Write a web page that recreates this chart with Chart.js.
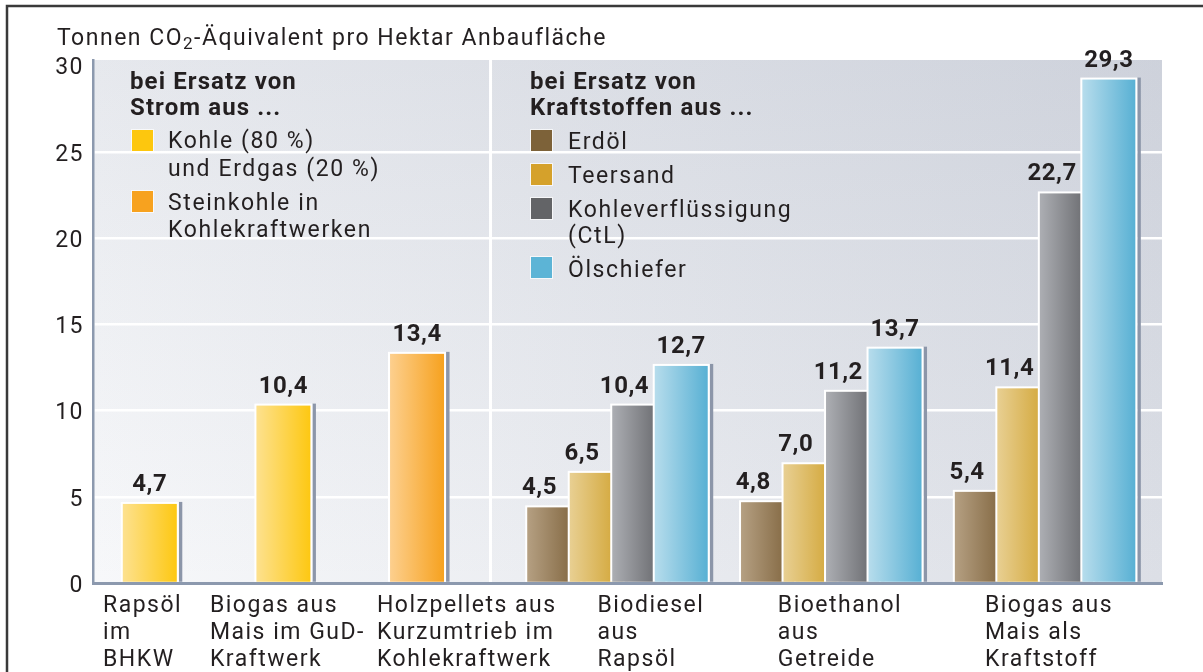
<!DOCTYPE html>
<html lang="de">
<head>
  <meta charset="UTF-8">
  <title>Tonnen CO2-Äquivalent pro Hektar Anbaufläche</title>
  <script src="https://cdn.jsdelivr.net/npm/chart.js"></script>
  <style>
    html, body { margin: 0; padding: 0; background: #fff; }
    canvas { display: block; }
  </style>
</head>
<body>
  <canvas id="co2Chart" width="1203" height="672"></canvas>

  <script>
    // Data
    const groupLabels = [
      ['Rapsöl', 'im', 'BHKW'],
      ['Biogas aus', 'Mais im GuD-', 'Kraftwerk'],
      ['Holzpellets aus', 'Kurzumtrieb im', 'Kohlekraftwerk'],
      ['Biodiesel', 'aus', 'Rapsöl'],
      ['Bioethanol', 'aus', 'Getreide'],
      ['Biogas aus', 'Mais als', 'Kraftstoff']
    ];
    const kohleErdgas = [4.7, 10.4, null, null, null, null];
    const steinkohle  = [null, null, 13.4, null, null, null];
    const erdoel      = [null, null, null, 4.5, 4.8, 5.4];
    const teersand    = [null, null, null, 6.5, 7.0, 11.4];
    const kohleverfl  = [null, null, null, 10.4, 11.2, 22.7];
    const oelschiefer = [null, null, null, 12.7, 13.7, 29.3];
    const yTicks = [0, 5, 10, 15, 20, 25, 30];

    const seriesNames = [
      ['Kohle (80 %)', 'und Erdgas (20 %)'],
      ['Steinkohle in', 'Kohlekraftwerken'],
      ['Erdöl'],
      ['Teersand'],
      ['Kohleverflüssigung', '(CtL)'],
      ['Ölschiefer']
    ];
    const stromHeader = ['bei Ersatz von', 'Strom aus ...'];
    const kraftHeader = ['bei Ersatz von', 'Kraftstoffen aus ...'];

    // Styles
    const FONT = 'Roboto, "Open Sans", sans-serif';
    const INK = '#231f20';
    const seriesStyle = [
      { light: '#fde293', dark: '#fdc70e', swatch: '#fdc70e' },
      { light: '#fdd192', dark: '#f6a01b', swatch: '#f7a21f' },
      { light: '#b7a285', dark: '#7a5e36', swatch: '#7d6239' },
      { light: '#e9d196', dark: '#cfa02a', swatch: '#d5a12b' },
      { light: '#afb1b6', dark: '#5e5f63', swatch: '#636467' },
      { light: '#badeed', dark: '#55afd3', swatch: '#5cb4d6' }
    ];

    // Layout: the x axis is split into fine slots so the groups can sit unevenly
    const SLOTS = 160;
    const barSlot = [8, 28, 48, 78, 110, 142];
    const labelSlot = [1, 17, 42, 75, 102, 133];
    const sepSlot = 59;
    const plotLeft = 93, plotRight = 1162, plotTop = 60, plotBottom = 583;
    const slotW = (plotRight - plotLeft) / SLOTS;

    const slotLabels = Array(SLOTS).fill('');
    labelSlot.forEach((s, i) => { slotLabels[s] = groupLabels[i]; });
    function toSlots(values) {
      const out = Array(SLOTS).fill(null);
      values.forEach((v, i) => { out[barSlot[i]] = v; });
      return out;
    }
    const fmt = v => v.toFixed(1).replace('.', ',');

    const allSeries = [kohleErdgas, steinkohle, erdoel, teersand, kohleverfl, oelschiefer];
    const datasets = allSeries.map((values, i) => {
      const single = i < 2;
      return {
        label: seriesNames[i].join(' '),
        data: toSlots(values),
        backgroundColor: seriesStyle[i].dark,
        skipNull: true,
        categoryPercentage: single ? 1 : (4 * 42.5) / slotW,
        barPercentage: single ? 58 / slotW : 57 / 42.5
      };
    });

    // Plot background
    const backdrop = {
      id: 'backdrop',
      beforeDraw(chart) {
        const ctx = chart.ctx;
        const { left, top, right, bottom } = chart.chartArea;
        ctx.save();
        const gh = ctx.createLinearGradient(left, 0, right, 0);
        gh.addColorStop(0, '#f7f8fa');
        gh.addColorStop(1, '#dcdfe6');
        ctx.fillStyle = gh;
        ctx.fillRect(left, top, right - left, bottom - top);
        const gv = ctx.createLinearGradient(0, top, 0, bottom);
        gv.addColorStop(0, 'rgba(60,75,110,0.09)');
        gv.addColorStop(1, 'rgba(60,75,110,0)');
        ctx.fillStyle = gv;
        ctx.fillRect(left, top, right - left, bottom - top);
        ctx.restore();
      }
    };

    // Bars: drawn in series order so later bars overlap earlier ones
    const barPainter = {
      id: 'barPainter',
      beforeDatasetsDraw(chart) {
        const ctx = chart.ctx;
        const { top, bottom } = chart.chartArea;
        ctx.save();
        const sx = chart.scales.x.getPixelForValue(sepSlot);
        ctx.fillStyle = '#fff';
        ctx.fillRect(sx - 1.5, top, 3, bottom - top);
        chart.data.datasets.forEach((ds, i) => {
          const st = seriesStyle[i];
          chart.getDatasetMeta(i).data.forEach((bar, j) => {
            if (ds.data[j] == null) return;
            const { x, y, base, width } = bar.getProps(['x', 'y', 'base', 'width'], true);
            const l = x - width / 2, r = x + width / 2;
            ctx.fillStyle = '#8c96a9';
            ctx.fillRect(r, y, 3.5, base - y);
            ctx.fillStyle = '#fff';
            ctx.fillRect(l, y, width, base - y);
            const g = ctx.createLinearGradient(l, 0, r, 0);
            g.addColorStop(0, st.light);
            g.addColorStop(1, st.dark);
            ctx.fillStyle = g;
            ctx.fillRect(l + 2, y + 2, width - 4, base - y - 2);
          });
        });
        ctx.restore();
        return false;
      }
    };

    // Frame, title, value labels, legend blocks
    const annotations = {
      id: 'annotations',
      afterDraw(chart) {
        const ctx = chart.ctx;
        ctx.save();
        ctx.strokeStyle = '#3a3a3a';
        ctx.lineWidth = 2.5;
        ctx.beginPath();
        ctx.moveTo(7, 680);
        ctx.lineTo(7, 6);
        ctx.lineTo(1210, 6);
        ctx.stroke();

        ctx.fillStyle = INK;
        ctx.textBaseline = 'alphabetic';
        ctx.letterSpacing = '1.5px';

        // axis title with subscript
        ctx.textAlign = 'left';
        ctx.font = '23px ' + FONT;
        let tx = 57;
        ctx.fillText('Tonnen CO', tx, 45);
        tx += ctx.measureText('Tonnen CO').width;
        ctx.font = '17px ' + FONT;
        ctx.fillText('2', tx, 49);
        tx += ctx.measureText('2').width;
        ctx.font = '23px ' + FONT;
        ctx.fillText('-Äquivalent pro Hektar Anbaufläche', tx, 45);

        // value labels
        ctx.textAlign = 'center';
        ctx.font = 'bold 24px ' + FONT;
        ctx.letterSpacing = '0.5px';
        chart.data.datasets.forEach((ds, i) => {
          chart.getDatasetMeta(i).data.forEach((bar, j) => {
            const v = ds.data[j];
            if (v == null) return;
            const covered = chart.data.datasets.some((d2, k) => k > i && d2.data[j] != null);
            const x = covered ? bar.x - bar.width / 4 : bar.x;
            ctx.fillText(fmt(v), x, bar.y - 11);
          });
        });

        // legend blocks
        ctx.textAlign = 'left';
        const header = (lines, x) => {
          ctx.font = 'bold 24px ' + FONT;
          ctx.letterSpacing = '1.1px';
          ctx.fillStyle = INK;
          ctx.fillText(lines[0], x, 89);
          ctx.fillText(lines[1], x, 115);
        };
        const item = (i, sx, sy, tx, ty, lh) => {
          ctx.fillStyle = 'rgba(255,255,255,0.7)';
          ctx.fillRect(sx - 1, sy - 1, 23, 23);
          ctx.fillStyle = seriesStyle[i].swatch;
          ctx.fillRect(sx, sy, 21, 21);
          ctx.font = '23px ' + FONT;
          ctx.letterSpacing = '1.6px';
          ctx.fillStyle = INK;
          seriesNames[i].forEach((line, k) => ctx.fillText(line, tx, ty + k * lh));
        };
        header(stromHeader, 130);
        item(0, 132, 130, 168, 148, 28);
        item(1, 132, 191, 168, 210, 27);
        header(kraftHeader, 530);
        item(2, 531, 130, 568, 149, 26);
        item(3, 531, 164, 568, 183, 26);
        item(4, 531, 198, 568, 217, 26);
        item(5, 531, 257, 568, 277, 26);
        ctx.restore();
      }
    };

    // wider tracking for the axis labels, closer to the original typeface
    const spacing = {
      id: 'spacing',
      beforeDraw(chart) { chart.ctx.letterSpacing = '1.5px'; }
    };

    new Chart(document.getElementById('co2Chart'), {
      type: 'bar',
      data: { labels: slotLabels, datasets: datasets },
      options: {
        responsive: false,
        devicePixelRatio: 1,
        animation: false,
        events: [],
        layout: { padding: { left: 0, top: plotTop, right: 1203 - plotRight, bottom: 0 } },
        plugins: {
          legend: { display: false },
          tooltip: { enabled: false },
          title: { display: false }
        },
        scales: {
          x: {
            type: 'category',
            grid: { display: false, drawTicks: false },
            border: { display: true, color: '#8c99ae', width: 3, z: 1 },
            ticks: {
              autoSkip: false,
              maxRotation: 0,
              minRotation: 0,
              align: 'start',
              padding: 10,
              color: INK,
              font: { family: FONT, size: 23, lineHeight: 1.17 }
            },
            afterFit: s => { s.height = 672 - plotBottom; }
          },
          y: {
            min: 0,
            max: (plotBottom - plotTop) / 17.25,
            afterBuildTicks: s => { s.ticks = yTicks.map(v => ({ value: v })); },
            afterFit: s => { s.width = plotLeft; },
            grid: {
              drawTicks: false,
              lineWidth: 2.5,
              color: c => (c.tick && (c.tick.value === 0 || c.tick.value === 30)) ? 'rgba(0,0,0,0)' : '#ffffff'
            },
            border: { display: true, color: '#8c99ae', width: 2.5, z: 1 },
            ticks: {
              padding: 9,
              labelOffset: 3,
              color: INK,
              font: { family: FONT, size: 23 },
              callback: v => String(v)
            }
          }
        }
      },
      plugins: [spacing, backdrop, barPainter, annotations]
    });
  </script>
</body>
</html>
